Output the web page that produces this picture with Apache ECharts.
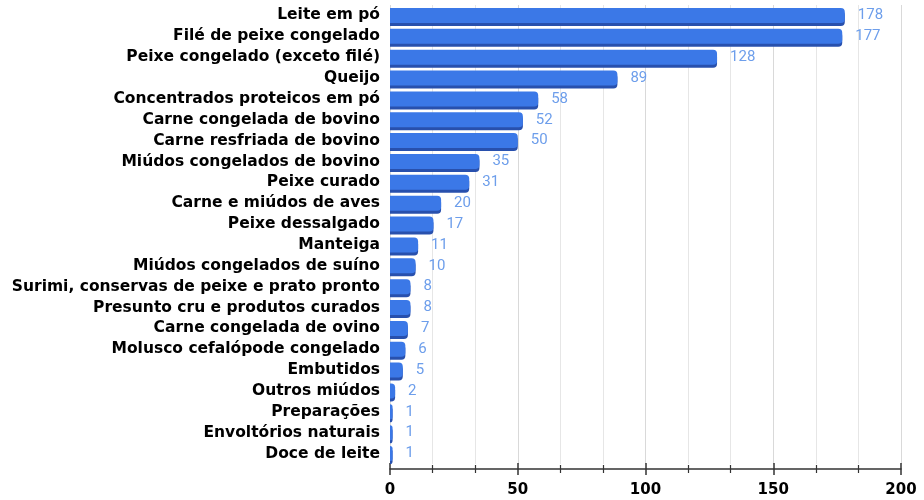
<!DOCTYPE html>
<html>
<head>
<meta charset="utf-8">
<script src="https://cdn.jsdelivr.net/npm/echarts@6/dist/echarts.min.js"></script>
<style>
  html, body { margin: 0; padding: 0; background: #fff; }
  #chart { width: 924px; height: 500px; }
</style>
</head>
<body>
<div id="chart"></div>
<script>
// Products, top to bottom
const categories = [
  'Leite em pó',
  'Filé de peixe congelado',
  'Peixe congelado (exceto filé)',
  'Queijo',
  'Concentrados proteicos em pó',
  'Carne congelada de bovino',
  'Carne resfriada de bovino',
  'Miúdos congelados de bovino',
  'Peixe curado',
  'Carne e miúdos de aves',
  'Peixe dessalgado',
  'Manteiga',
  'Miúdos congelados de suíno',
  'Surimi, conservas de peixe e prato pronto',
  'Presunto cru e produtos curados',
  'Carne congelada de ovino',
  'Molusco cefalópode congelado',
  'Embutidos',
  'Outros miúdos',
  'Preparações',
  'Envoltórios naturais',
  'Doce de leite'
];
const values = [178, 177, 128, 89, 58, 52, 50, 35, 31, 20, 17, 11, 10, 8, 8, 7, 6, 5, 2, 1, 1, 1];
const xTicks = [0, 50, 100, 150, 200];

const chart = echarts.init(document.getElementById('chart'), null, { renderer: 'canvas' });

const boldFont = { fontFamily: 'DejaVu Sans', fontWeight: 'bold', color: '#000' };

chart.setOption({
  animation: false,
  grid: { left: 390, right: 23, top: 5, bottom: 36, containLabel: false, outerBoundsMode: 'none' },
  xAxis: [
    {
      type: 'value',
      min: xTicks[0],
      max: xTicks[xTicks.length - 1],
      interval: xTicks[1] - xTicks[0],
      offset: 5,
      axisLine: { show: true, lineStyle: { color: '#333', width: 1.5 } },
      axisTick: { show: true, length: 6, lineStyle: { color: '#333', width: 1.5 } },
      minorTick: { show: true, splitNumber: 3, length: 4, lineStyle: { color: '#333', width: 1.2 } },
      splitLine: { show: true, lineStyle: { color: '#d9d9d9', width: 1 } },
      minorSplitLine: { show: true, lineStyle: { color: '#e6e6e6', width: 1 } },
      axisLabel: Object.assign({ fontSize: 15, margin: 14 }, boldFont)
    },
    {
      type: 'value',
      position: 'bottom',
      min: xTicks[0],
      max: xTicks[xTicks.length - 1],
      interval: xTicks[1] - xTicks[0],
      offset: 5,
      axisLine: { show: false },
      axisTick: { show: true, inside: true, length: 6, lineStyle: { color: '#333', width: 1.5 } },
      minorTick: { show: true, splitNumber: 3, length: 4, lineStyle: { color: '#333', width: 1.2 } },
      splitLine: { show: false },
      axisLabel: { show: false }
    }
  ],
  yAxis: {
    type: 'category',
    inverse: true,
    data: categories,
    axisLine: { show: false },
    axisTick: { show: false },
    axisLabel: Object.assign({ fontSize: 15.5, margin: 10, interval: 0 }, boldFont)
  },
  series: [{
    type: 'bar',
    data: values,
    barWidth: 15,
    itemStyle: {
      color: '#3b78e7',
      borderRadius: [0, 4, 4, 0],
      shadowColor: '#2850ad',
      shadowOffsetY: 3,
      shadowOffsetX: 0,
      shadowBlur: 0
    },
    label: {
      show: true,
      position: 'right',
      distance: 13,
      fontFamily: 'Roboto',
      fontSize: 15,
      color: '#6d9eeb'
    }
  }]
});
</script>
</body>
</html>
